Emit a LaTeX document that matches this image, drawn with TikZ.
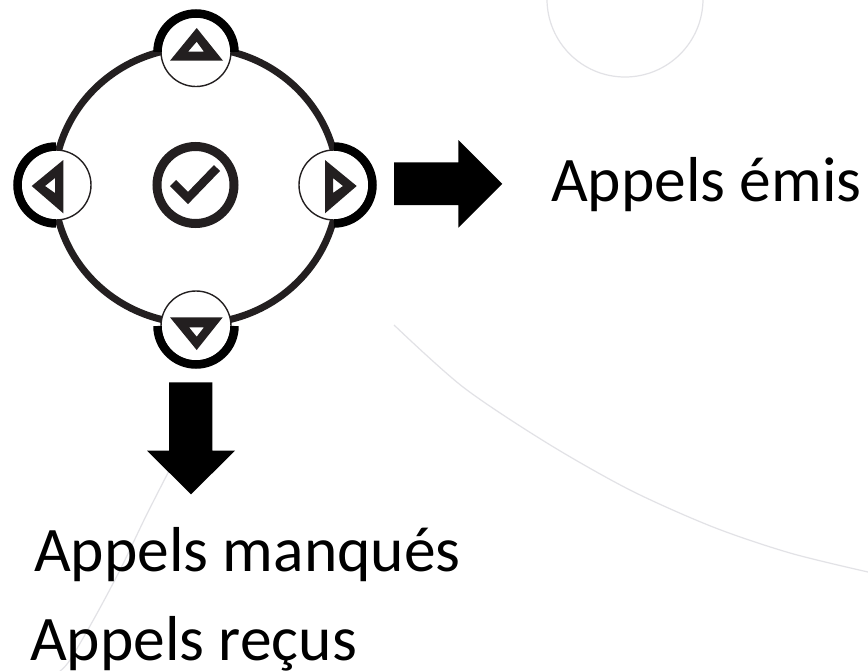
\documentclass[tikz,border=0pt]{standalone}
\usepackage{fontspec}
\setmainfont{Carlito}
\definecolor{ink}{HTML}{231F20}
\definecolor{faint}{HTML}{E2E2E6}
\tikzset{
  faintline/.style={draw=faint,line width=1.2pt},
  bigring/.style={draw=ink,line width=7pt},
  thickarc/.style={draw=black,line width=8.5pt},
  thinring/.style={draw=ink,line width=1.4pt,fill=white},
  tri/.style={fill=ink,even odd rule,draw=none},
  blockarrow/.style={fill=black,draw=none},
  label/.style={anchor=base west,inner sep=0pt,font=\fontsize{63.5}{63.5}\selectfont,text=black}
}
\begin{document}
\begin{tikzpicture}[x=1pt,y=-1pt]
\useasboundingbox (0,0) rectangle (868,670);
\fill[white] (0,0) rectangle (868,670);
% background faint curves
\begin{scope}
\clip (0,0) rectangle (868,670);
\draw[faintline] (625,-1) circle[radius=78];
\draw[faintline] plot[smooth] coordinates {(394,325) (463,387) (547,443) (630,490) (713,527) (790,553) (868,572)};
\draw[faintline] plot[smooth] coordinates {(172,465) (146,516) (120,570) (95,617) (70,660) (59,672)};
\end{scope}
% large ring
\draw[bigring] (196,185.5) ellipse[x radius=142,y radius=138];
% buttons
\draw[thinring] (196,51.5) circle[radius=35];
\draw[thinring] (196,326) circle[radius=35];
\draw[thinring] (56,185) circle[radius=35];
\draw[thinring] (334,185) circle[radius=35];
\draw[thickarc] (234.5,52) arc[start angle=0,end angle=-180,radius=38.5];
\draw[thickarc] (234.5,326) arc[start angle=0,end angle=180,radius=38.5];
\draw[thickarc] (56,146.5) arc[start angle=-90,end angle=-270,radius=38.5];
\draw[thickarc] (334,146.5) arc[start angle=-90,end angle=90,radius=38.5];
% triangles
\fill[tri] (196.7,28) -- (170,60.7) -- (223,60.7) -- cycle (196.7,41.7) -- (188,51.7) -- (204,51.7) -- cycle;
\fill[tri] (196.7,350) -- (170,317.3) -- (222.7,317.3) -- cycle (196.7,336.7) -- (189,327.3) -- (204,327.3) -- cycle;
\fill[tri] (31.7,186) -- (63.3,160) -- (63.3,213.3) -- cycle (45,186) -- (55,178) -- (55,193) -- cycle;
\fill[tri] (356.7,186) -- (325,160) -- (325,213.3) -- cycle (343,186) -- (333,178) -- (333,193) -- cycle;
% centre
\draw[draw=ink,line width=9pt] (195.5,185) circle[radius=38.5];
\draw[draw=ink,line width=8.5pt] (173,183) -- (188,198) -- (217,168);
% block arrows
\fill[blockarrow] (394,162.3) -- (458.3,162.3) -- (458.3,140) -- (502.3,183.8) -- (458.3,227.7) -- (458.3,205) -- (394,205) -- cycle;
\fill[blockarrow] (169,382.3) -- (212.3,382.3) -- (212.3,450.7) -- (235,450.7) -- (191,494.3) -- (147,450.7) -- (169,450.7) -- cycle;
% labels
\node[label] (emis) at (551,201) {Appels émis};
\node[label] (manques) at (34,571) {Appels manqués};
\node[label] (recus) at (30,660) {Appels reçus};
\end{tikzpicture}
\end{document}
